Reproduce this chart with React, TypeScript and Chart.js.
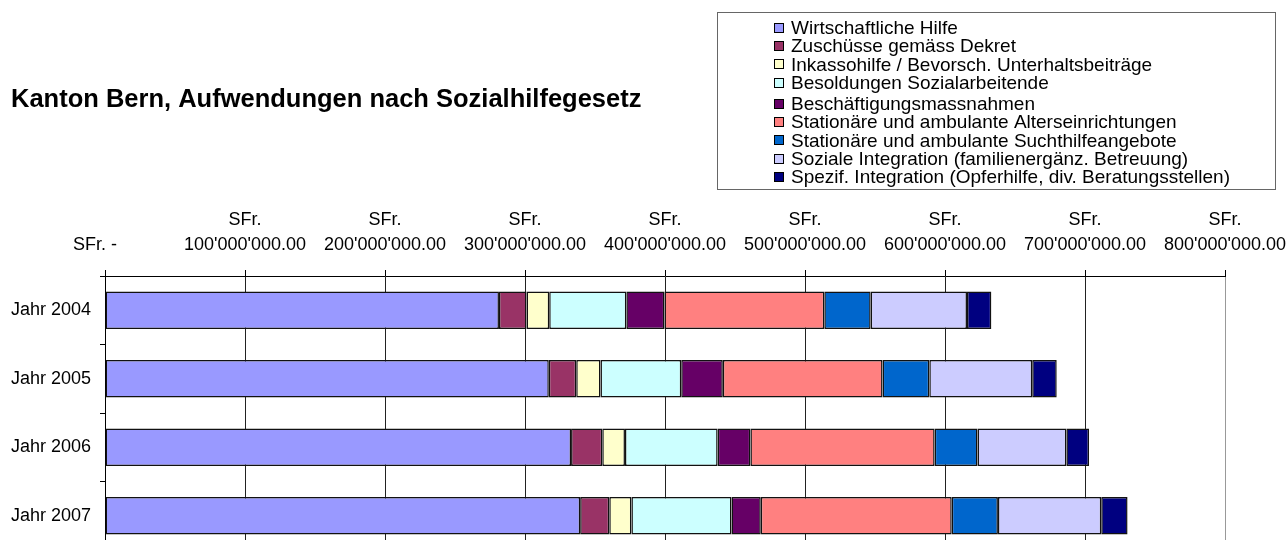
import React, { useEffect, useRef } from 'react';
import { Chart, registerables } from 'chart.js';

Chart.register(...registerables);

const FONT = "'Liberation Sans', Arial, sans-serif";

const chartTitle = 'Kanton Bern, Aufwendungen nach Sozialhilfegesetz';
const years = ['Jahr 2004', 'Jahr 2005', 'Jahr 2006', 'Jahr 2007'];
const currencyPrefix = 'SFr.';
const zeroTickLabel = 'SFr. -    ';

const seriesNames = [
  'Wirtschaftliche Hilfe',
  'Zuschüsse gemäss Dekret',
  'Inkassohilfe / Bevorsch. Unterhaltsbeiträge',
  'Besoldungen Sozialarbeitende',
  'Beschäftigungsmassnahmen',
  'Stationäre und ambulante Alterseinrichtungen',
  'Stationäre und ambulante Suchthilfeangebote',
  'Soziale Integration (familienergänz. Betreuung)',
  'Spezif. Integration (Opferhilfe, div. Beratungsstellen)',
];

const seriesColors = ['#9999FF', '#993366', '#FFFFCC', '#CCFFFF', '#660066', '#FF8080', '#0066CC', '#CCCCFF', '#000080'];

// values in SFr.
const wirtschaftlicheHilfe = [281400000, 317000000, 332900000, 339400000];
const zuschuesse = [19700000, 19600000, 22300000, 20800000];
const inkassohilfe = [16200000, 17300000, 16200000, 15800000];
const besoldungen = [55100000, 57700000, 66200000, 71500000];
const beschaeftigung = [27200000, 29700000, 23400000, 20900000];
const alterseinrichtungen = [114200000, 114100000, 131600000, 136400000];
const suchthilfe = [33100000, 33400000, 30600000, 33000000];
const sozialeIntegration = [68800000, 73500000, 63500000, 73800000];
const spezifIntegration = [17400000, 17500000, 16200000, 18800000];

const seriesValues = [
  wirtschaftlicheHilfe,
  zuschuesse,
  inkassohilfe,
  besoldungen,
  beschaeftigung,
  alterseinrichtungen,
  suchthilfe,
  sozialeIntegration,
  spezifIntegration,
];

const axisMax = 800000000;
const axisStep = 100000000;

function formatAmount(v: number): string {
  const s = Math.round(v).toString().replace(/\B(?=(\d{3})+(?!\d))/g, "'");
  return s + '.00';
}

function legendRowY(i: number): number {
  return i < 4 ? 27.5 + i * 18.4 : 104 + (i - 4) * 18.2;
}

const decorPlugin = {
  id: 'decor',
  afterDraw(chart: any) {
    const ctx = chart.ctx as CanvasRenderingContext2D;
    ctx.save();
    // title
    ctx.font = `bold 25.5px ${FONT}`;
    ctx.fillStyle = '#000';
    ctx.textAlign = 'left';
    ctx.textBaseline = 'alphabetic';
    ctx.fillText(chartTitle, 11, 106.5);

    // legend box
    ctx.fillStyle = '#fff';
    ctx.fillRect(717, 12, 558, 177);
    ctx.strokeStyle = '#666';
    ctx.lineWidth = 1;
    ctx.strokeRect(717.5, 12.5, 558, 177);

    chart.data.datasets.forEach((ds: any, i: number) => {
      const y = legendRowY(i);
      ctx.fillStyle = ds.backgroundColor;
      ctx.fillRect(774.5, Math.round(y) - 4.5, 9, 9);
      ctx.strokeStyle = '#000';
      ctx.strokeRect(774.5, Math.round(y) - 4.5, 9, 9);
      ctx.fillStyle = '#000';
      ctx.font = `19px ${FONT}`;
      ctx.textBaseline = 'middle';
      ctx.fillText(ds.label, 791, y + 1);
    });
    ctx.restore();
  },
};

export default function App() {
  const canvasRef = useRef<HTMLCanvasElement | null>(null);

  useEffect(() => {
    if (!canvasRef.current) return;
    Chart.defaults.font.family = FONT;
    Chart.defaults.color = '#000';
    const chart = new Chart(canvasRef.current, {
      type: 'bar',
      data: {
        labels: years,
        datasets: seriesNames.map((name, i) => ({
          label: name,
          data: seriesValues[i],
          backgroundColor: seriesColors[i],
          borderColor: '#111',
          borderWidth: 1.5,
          borderSkipped: false,
          barPercentage: 0.55,
          categoryPercentage: 1,
        })),
      },
      options: {
        indexAxis: 'y',
        animation: false,
        responsive: true,
        maintainAspectRatio: false,
        layout: { padding: { top: 206, right: 61, bottom: 0, left: 0 } },
        plugins: {
          legend: { display: false },
          title: { display: false },
          tooltip: { enabled: false },
        },
        scales: {
          x: {
            type: 'linear',
            position: 'top',
            stacked: true,
            min: 0,
            max: axisMax,
            afterFit: (s: any) => {
              s.height = 70;
              s.paddingLeft = 0;
              s.paddingRight = 0;
              s.paddingTop = 0;
              s.paddingBottom = 0;
            },
            ticks: {
              stepSize: axisStep,
              autoSkip: false,
              maxRotation: 0,
              minRotation: 0,
              padding: 12,
              color: '#000',
              font: { family: FONT, size: 18, lineHeight: 25 / 18 },
              callback: (v: any) => (Number(v) === 0 ? ['', zeroTickLabel] : [currencyPrefix, formatAmount(Number(v))]),
            },
            grid: {
              color: (c: any) => (c.tick && c.tick.value === axisMax ? '#999' : '#222'),
              lineWidth: 1,
              tickLength: 6,
              tickColor: '#000',
            },
            border: { display: true, color: '#000', width: 1 },
          },
          y: {
            type: 'category',
            stacked: true,
            afterFit: (s: any) => {
              s.width = 105;
              s.paddingLeft = 0;
              s.paddingRight = 0;
              s.paddingTop = 0;
              s.paddingBottom = 0;
            },
            ticks: {
              padding: 9,
              color: '#000',
              font: { family: FONT, size: 18 },
            },
            grid: {
              drawOnChartArea: false,
              offset: true,
              tickLength: 5,
              tickColor: '#000',
            },
            border: { display: true, color: '#000', width: 1 },
          },
        },
      },
      plugins: [decorPlugin],
    } as any);
    return () => chart.destroy();
  }, []);

  return (
    <div style={{ position: 'absolute', left: 0, top: 0, width: 1286, height: 540, overflow: 'hidden', background: '#fff' }}>
      <div style={{ position: 'relative', width: 1286, height: 550 }}>
        <canvas ref={canvasRef} />
      </div>
    </div>
  );
}
